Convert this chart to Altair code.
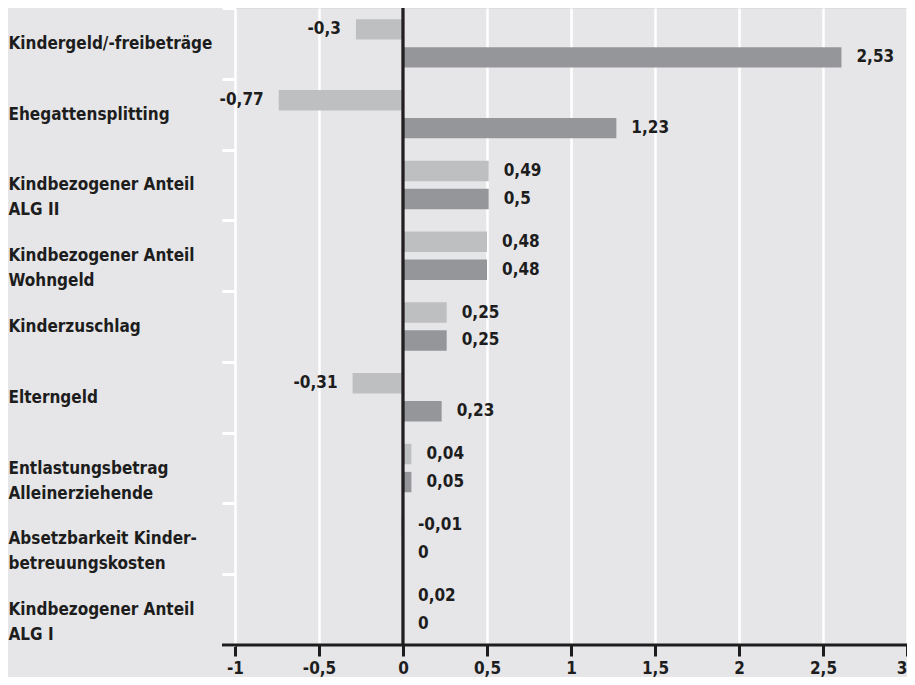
import altair as alt
import pandas as pd

categories = [
    "Kindergeld/-freibeträge",
    "Ehegattensplitting",
    "Kindbezogener Anteil|ALG II",
    "Kindbezogener Anteil|Wohngeld",
    "Kinderzuschlag",
    "Elterngeld",
    "Entlastungsbetrag|Alleinerziehende",
    "Absetzbarkeit Kinder-|betreuungskosten",
    "Kindbezogener Anteil|ALG I",
]
series = ["Reihe 1", "Reihe 2"]
values_light = [-0.28, -0.74, 0.51, 0.50, 0.26, -0.30, 0.05, -0.01, 0.0]
values_dark = [2.61, 1.27, 0.51, 0.50, 0.26, 0.23, 0.05, 0.0, 0.0]
labels_light = ["-0,3", "-0,77", "0,49", "0,48", "0,25", "-0,31", "0,04", "-0,01", "0,02"]
labels_dark = ["2,53", "1,23", "0,5", "0,48", "0,25", "0,23", "0,05", "0", "0"]
x_ticks = [-1, -0.5, 0, 0.5, 1, 1.5, 2, 2.5, 3]

rows = []
for i, c in enumerate(categories):
    rows.append({"cat": c, "series": series[0], "value": values_light[i], "label": labels_light[i]})
    rows.append({"cat": c, "series": series[1], "value": values_dark[i], "label": labels_dark[i]})
df = pd.DataFrame(rows)

FONT = "DejaVu Sans Condensed, Liberation Sans Narrow, sans-serif"
INK = "#1d1d1d"
W, H = 672, 637
FS = 17

y_axis = alt.Axis(
    title=None, domain=False, tickBand="extent", tickColor="white", tickWidth=3,
    tickSize=13, labelAlign="left", labelPadding=214, labelBaseline="middle",
    labelFont=FONT, labelFontSize=FS, labelFontWeight="bold", labelColor=INK,
    labelLineHeight=25, labelLimit=400, labelExpr="split(datum.label, '|')",
)
x_axis = alt.Axis(
    title=None, values=x_ticks, grid=True, gridColor="white", gridWidth=2.5,
    domain=False, tickColor=INK, tickWidth=3, tickSize=11, format="~g",
    labelFont=FONT, labelFontSize=FS, labelFontWeight="bold", labelColor=INK,
    labelPadding=4,
    labelAlign={"condition": {"test": "datum.value >= 3", "value": "right"}, "value": "center"},
)
x_scale = alt.Scale(domain=[-1, 3], nice=False, zero=False)
y_enc = alt.Y("cat:N", sort=categories, scale=alt.Scale(paddingInner=0, paddingOuter=0), axis=y_axis)
yoff = alt.YOffset("series:N", sort=series, scale=alt.Scale(paddingInner=0.27, paddingOuter=0.4))

base = alt.Chart(df)

bars = base.mark_bar().encode(
    x=alt.X("value:Q", scale=x_scale, axis=x_axis),
    y=y_enc,
    yOffset=yoff,
    color=alt.Color("series:N", scale=alt.Scale(domain=series, range=["#bebfc1", "#959699"]), legend=None),
)

txt = dict(font=FONT, fontSize=FS, fontWeight="bold", color=INK, baseline="middle")
neg = base.transform_filter("datum.value < -0.05").mark_text(align="right", dx=-15, **txt).encode(
    x=alt.X("value:Q", scale=x_scale, axis=x_axis), y=y_enc, yOffset=yoff, text="label:N"
)
pos = base.transform_filter("datum.value >= -0.05").transform_calculate(
    pos="max(datum.value, 0)"
).mark_text(align="left", dx=15, **txt).encode(
    x=alt.X("pos:Q", scale=x_scale, axis=x_axis), y=y_enc, yOffset=yoff, text="label:N"
)

zero = alt.Chart(pd.DataFrame({"z": [0]})).mark_rule(color="#231f20", strokeWidth=3.3).encode(
    x=alt.X("z:Q", scale=x_scale, axis=x_axis)
)
axis_line = alt.Chart(pd.DataFrame({"z": [0]})).mark_rule(color=INK, strokeWidth=3).encode(
    x=alt.value(-13), x2=alt.value(W), y=alt.value(H)
)

chart = alt.layer(bars, neg, pos, zero, axis_line).properties(
    width=W, height=H,
    padding={"left": 227, "top": 0, "right": 0, "bottom": 32},
    autosize=alt.AutoSizeParams(type="none"),
    background="#e6e6e8",
).configure_view(stroke=None).configure(
    locale={"number": {"decimal": ",", "thousands": ".", "grouping": [3],
                       "currency": ["", " €"], "minus": "-"}}
)

chart.save("out.html", embed_options={"renderer": "svg", "actions": False})
